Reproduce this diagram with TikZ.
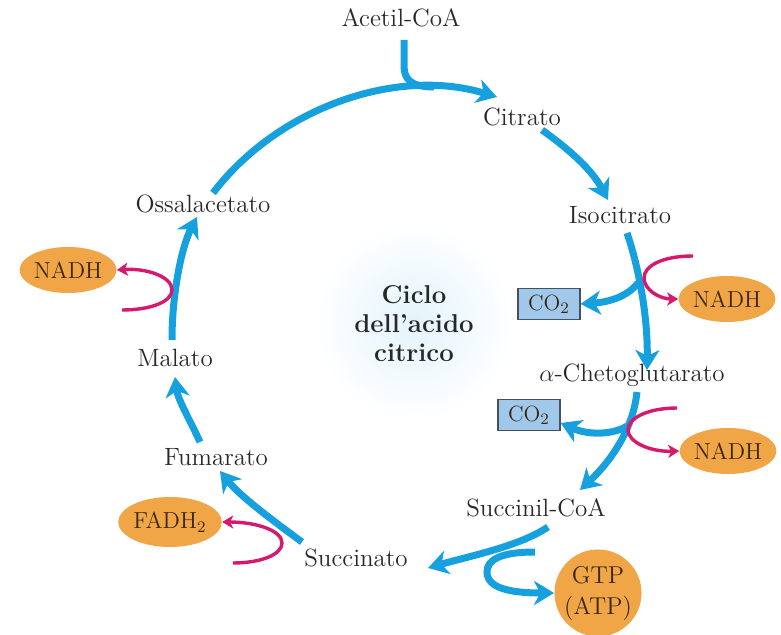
\documentclass[tikz,border=0pt]{standalone}
\usetikzlibrary{arrows.meta,shapes.geometric}
\definecolor{cycblue}{RGB}{22,160,222}
\definecolor{redoxpink}{RGB}{215,25,110}
\definecolor{carrierorange}{RGB}{240,165,70}
\definecolor{co2fill}{RGB}{160,200,235}
\definecolor{co2line}{RGB}{70,80,95}
\definecolor{txt}{RGB}{40,40,40}
\definecolor{ctxt}{RGB}{60,40,20}
\begin{document}
\begin{tikzpicture}[x=0.5pt,y=-0.5pt,
  lbl/.style={font=\fontsize{12.5}{14}\selectfont, text=txt, inner sep=1pt},
  flow/.style={draw=cycblue, line width=3.5pt, -{Stealth[length=10pt,width=12pt,inset=3pt]}},
  flowplain/.style={draw=cycblue, line width=3.5pt},
  redox/.style={draw=redoxpink, line width=1.7pt, -{Stealth[length=5.5pt,width=6.5pt,inset=1.5pt]}},
  carrier/.style={ellipse, fill=carrierorange, inner sep=0pt, minimum width=48pt, minimum height=23pt, font=\fontsize{11.6}{13}\selectfont, text=ctxt},
  co2box/.style={rectangle, draw=co2line, fill=co2fill, line width=0.6pt, inner sep=0pt, minimum width=31pt, minimum height=15.5pt, font=\fontsize{11}{12}\selectfont, text=ctxt}
]
\useasboundingbox (0,0) rectangle (781,635);
\fill[white] (0,0) rectangle (781,635);
% central glow
\shade[inner color=cycblue!12, outer color=white] (414,322) circle[radius=100];
\node[font=\bfseries\fontsize{12.9}{14.5}\selectfont, text=txt, align=center] (title) at (414,324) {Ciclo\\dell’acido\\citrico};

% metabolites
\node[lbl] (acetil) at (401,18) {Acetil-CoA};
\node[lbl] (citrato) at (522,117) {Citrato};
\node[lbl] (isocitrato) at (620,215) {Isocitrato};
\node[lbl] (cheto) at (632,375) {$\alpha$-Chetoglutarato};
\node[lbl] (succinil) at (536,508) {Succinil-CoA};
\node[lbl] (succinato) at (356,558) {Succinato};
\node[lbl] (fumarato) at (216,457) {Fumarato};
\node[lbl] (malato) at (175,358) {Malato};
\node[lbl] (ossal) at (203,204) {Ossalacetato};

% carriers and products
\node[carrier] (nadhL) at (68,270) {NADH};
\node[carrier] (nadhA) at (727,299) {NADH};
\node[carrier] (nadhB) at (728,451) {NADH};
\node[carrier, minimum width=51pt, minimum height=25pt] (fadh) at (170,522) {FADH$_2$};
\node[circle, fill=carrierorange, inner sep=0pt, minimum size=43pt, align=center, font=\fontsize{12.2}{15.5}\selectfont, text=ctxt] (gtp) at (598,593) {GTP\\(ATP)};
\node[co2box] (co2a) at (549,304) {CO$_2$};
\node[co2box] (co2b) at (529,415) {CO$_2$};

% connector end points
\coordinate (oS) at (213,193);
\coordinate (cE) at (497,97);
\coordinate (aS) at (404,40);
\coordinate (aM) at (434,87);
\coordinate (ciS) at (542,130);
\coordinate (isE) at (608,200);
\coordinate (isS) at (627,233);
\coordinate (chE) at (647,370);
\coordinate (br1) at (638,283);
\coordinate (p1S) at (693,256);
\coordinate (p1M) at (644,278);
\coordinate (chS) at (637,392);
\coordinate (suE) at (580,490);
\coordinate (br2) at (627,426);
\coordinate (p2S) at (677,408);
\coordinate (p2M) at (628,430);
\coordinate (scS) at (548,527);
\coordinate (snE) at (428,568);
\coordinate (gS) at (535,552);
\coordinate (gM) at (487,572);
\coordinate (snS) at (302,542);
\coordinate (fuE) at (220,471);
\coordinate (pfS) at (233,563);
\coordinate (pfM) at (282,543);
\coordinate (fuS) at (200,442);
\coordinate (maE) at (175,377);
\coordinate (maS) at (172,340);
\coordinate (osE) at (197,217);
\coordinate (pnS) at (122,310);
\coordinate (pnM) at (172,290);

% main cycle
\draw[flow] (oS) .. controls (276,110) and (394,66) .. (cE);
\draw[flowplain] (aS) -- (404,66) .. controls (404,80) and (412,87) .. (aM);
\draw[flow] (ciS) .. controls (570,150) and (592,170) .. (isE);
\draw[flow] (isS) .. controls (638,265) and (648,315) .. (chE);
\draw[flow] (br1) .. controls (628,296) and (610,302) .. (co2a.east);
\draw[redox] (p1S) .. controls (662,256) and (644,266) .. (p1M) .. controls (644,290) and (660,299) .. (nadhA.west);
\draw[flow] (chS) .. controls (633,430) and (610,462) .. (suE);
\draw[flow] (br2) .. controls (615,434) and (590,436) .. ([yshift=-4]co2b.east);
\draw[redox] (p2S) .. controls (648,408) and (628,418) .. (p2M) .. controls (628,442) and (650,452) .. (nadhB.west);
\draw[flow] (scS) .. controls (520,546) and (470,556) .. (snE);
\draw[flow] (gS) .. controls (500,552) and (487,560) .. (gM) .. controls (487,588) and (510,593) .. (gtp.west);
\draw[flow] (snS) .. controls (272,520) and (240,496) .. (fuE);
\draw[redox] (pfS) .. controls (260,563) and (282,555) .. (pfM) .. controls (282,530) and (255,522) .. (fadh.east);
\draw[flow] (fuS) .. controls (190,420) and (178,400) .. (maE);
\draw[flow] (maS) .. controls (172,292) and (182,246) .. (osE);
\draw[redox] (pnS) .. controls (150,310) and (172,302) .. (pnM) .. controls (172,276) and (145,268) .. (nadhL.east);
\end{tikzpicture}
\end{document}
